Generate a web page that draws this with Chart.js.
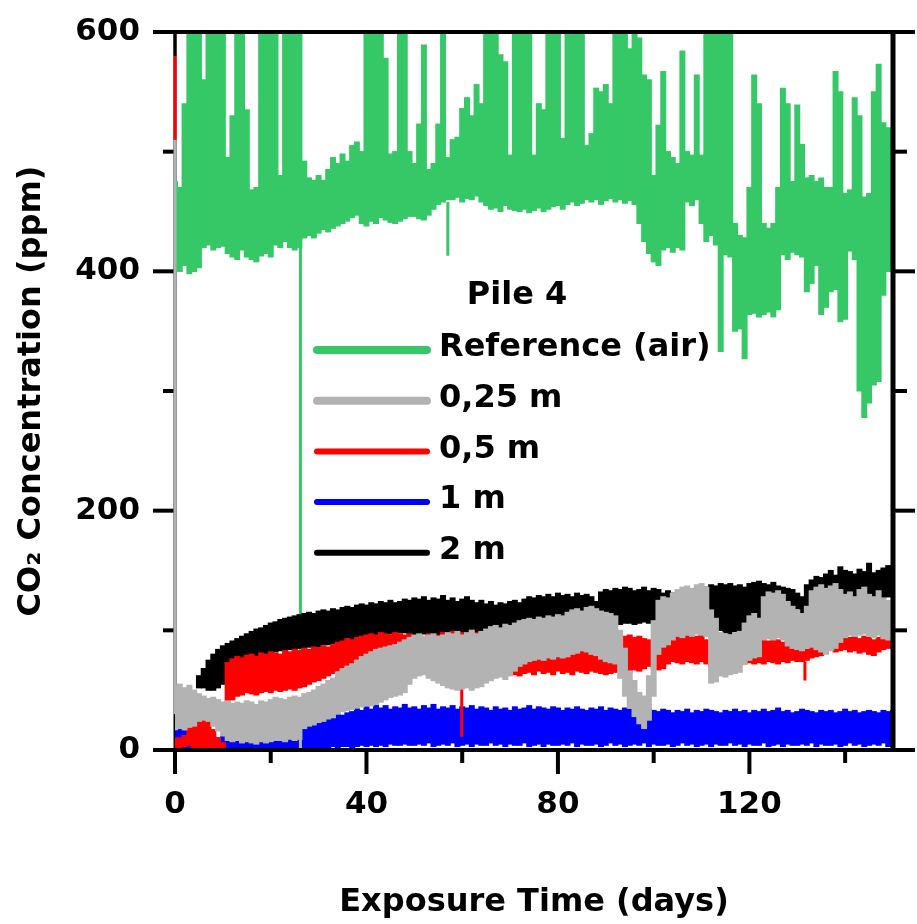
<!DOCTYPE html>
<html>
<head>
<meta charset="utf-8">
<title>Pile 4 CO2</title>
<script src="https://cdn.jsdelivr.net/npm/chart.js@4.4.1/dist/chart.umd.min.js"></script>
<style>
  body { margin: 0; background: #fff; }
  #wrap { width: 917px; height: 924px; }
</style>
</head>
<body>
<div id="wrap"><canvas id="myChart" width="917" height="924"></canvas></div>
<script>
// one value per day (day 0 .. 150), upper / lower edge of each noisy trace
const seriesNames = ["Reference (air)", "0,25 m", "0,5 m", "1 m", "2 m"];
const seriesColors = ["#36c866", "#b3b3b3", "#ff0000", "#0000ff", "#000000"];
const legendTitle = "Pile 4";

const xMajor = [0, 40, 80, 120];
const xMinor = [20, 60, 100, 140];
const yMajor = [0, 200, 400, 600];
const yMinor = [100, 300, 500];

const refHi = [
  475, 470, 540, 620, 620, 610, 560, 620, 600, 620,
  620, 495, 530, 620, 620, 535, 468, 470, 620, 620,
  620, 600, 480, 620, 620, 620, 620, 492, 478, 476,
  480, 476, 485, 495, 490, 498, 492, 505, 508, 500,
  620, 620, 620, 600, 578, 498, 500, 620, 610, 500,
  490, 523, 589, 485, 490, 523, 610, 495, 510, 512,
  536, 545, 530, 556, 540, 620, 620, 620, 581, 575,
  497, 620, 620, 610, 620, 497, 540, 535, 620, 620,
  620, 511, 600, 620, 620, 620, 505, 515, 553, 550,
  556, 540, 620, 620, 610, 586, 598, 595, 564, 560,
  480, 522, 567, 500, 495, 490, 584, 500, 497, 564,
  497, 620, 620, 620, 620, 620, 620, 440, 430, 428,
  470, 564, 540, 440, 436, 440, 470, 553, 540, 475,
  539, 506, 478, 480, 475, 478, 470, 470, 567, 550,
  465, 468, 545, 530, 462, 465, 550, 573, 524, 520,
  520
];
const refLo = [
  402, 400, 405, 398, 400, 403, 420, 422, 418, 420,
  421, 415, 412, 410, 418, 412, 410, 408, 413, 415,
  412, 422, 420, 425, 420, 418, 420, 428, 430, 428,
  432, 435, 433, 436, 438, 440, 442, 445, 447, 440,
  438, 442, 440, 445, 443, 441, 440, 442, 444, 446,
  446, 444, 443, 447, 452, 456, 458, 460, 460, 462,
  458, 461, 460, 463, 458, 455, 452, 453, 450, 455,
  452, 451, 450, 452, 449, 451, 453, 450, 452, 454,
  455, 452, 456, 458, 455, 457, 460, 458, 460, 456,
  459, 461, 458, 460, 457, 459, 456, 440, 425, 415,
  408, 405, 418, 420, 416, 420, 418, 458, 455, 460,
  440, 425, 430, 422, 333, 414, 412, 350, 352, 327,
  364, 365, 362, 364, 366, 362, 368, 414, 410, 416,
  414, 412, 383, 390, 405, 364, 370, 383, 385, 358,
  360, 417, 410, 300, 278, 290, 305, 308, 380, 400,
  400
];

const m025Hi = [
  53, 55, 52, 54, 50, 47, 45, 43, 44, 42,
  40, 41, 39, 40, 39, 41, 40, 38, 41, 40,
  42, 44, 43, 42, 44, 45, 44, 47, 48, 50,
  53, 55, 58, 60, 65, 68, 70, 72, 75, 78,
  80, 82, 84, 85, 86, 87, 88, 90, 92, 94,
  96, 97, 95, 96, 97, 95, 96, 98, 97, 99,
  96, 98, 100, 97, 99, 101, 103, 104, 102, 105,
  104, 106, 108, 109, 110, 109, 111, 110, 112, 111,
  113, 112, 115, 117, 118, 116, 119, 120, 118, 116,
  115, 114, 112, 100, 85, 66, 58, 48, 45, 62,
  108, 125, 128, 127, 131, 134, 136, 137, 135, 138,
  139, 136, 117, 110, 98, 97, 96, 98, 99, 106,
  112, 114, 110, 128, 132, 131, 133, 130, 124, 120,
  117, 114, 120, 133, 136, 138, 135, 137, 139, 134,
  130, 132, 128, 134, 136, 130, 128, 133, 127, 125,
  125
];
const m025Lo = [
  17, 18, 17, 19, 20, 24, 25, 24, 20, 16,
  12, 8, 7, 8, 6, 7, 6, 5, 7, 6,
  7, 8, 8, 7, 9, 8, 9, 18, 20, 21,
  23, 24, 26, 27, 30, 32, 33, 34, 35, 36,
  37, 37, 38, 40, 42, 44, 45, 46, 48, 55,
  60, 62, 63, 60, 58, 56, 54, 52, 51, 50,
  51, 52, 50, 52, 53, 56, 58, 60, 61, 59,
  62, 66, 70, 72, 74, 75, 76, 75, 77, 76,
  78, 77, 78, 80, 81, 83, 82, 80, 79, 76,
  74, 73, 72, 60, 45, 35, 28, 22, 18, 25,
  45, 80, 86, 88, 92, 95, 94, 96, 95, 97,
  96, 95, 56, 57, 62, 61, 63, 64, 65, 72,
  75, 77, 78, 92, 93, 92, 94, 92, 87, 85,
  84, 83, 85, 86, 84, 82, 80, 83, 85, 90,
  94, 96, 95, 96, 97, 95, 94, 96, 93, 92,
  92
];

const m05Hi = [
  10, 10, 12, 20, 25, 27, 26, 24, 17, 10,
  6, 73, 76, 78, 77, 79, 80, 78, 81, 80,
  82, 81, 80, 83, 82, 84, 83, 85, 84, 86,
  85, 87, 86, 88, 90, 91, 93, 92, 94, 95,
  96, 97, 96, 98, 97, 96, 98, 97, 96, 97,
  95, 96, 94, 97, 95, 96, 98, 97, 99, 96,
  98, 97, 100, 98, 95, 93, 90, 88, 85, 82,
  83, 84, 85, 86, 84, 86, 87, 86, 88, 87,
  89, 88, 90, 87, 89, 88, 90, 91, 89, 88,
  86, 85, 84, 94, 95, 96, 94, 95, 93, 92,
  88, 86, 88, 96, 97, 95, 98, 96, 97, 95,
  97, 92, 88, 87, 86, 88, 87, 86, 88, 90,
  92, 91, 93, 92, 91, 93, 92, 90, 91, 89,
  88, 86, 84, 86, 88, 92, 96, 97, 95, 97,
  96, 94, 95, 93, 95, 94, 92, 94, 97, 98,
  98
];
const m05Lo = [
  2, 2, 3, 4, 2, 0, 0, 0, 0, 0,
  0, 40, 42, 45, 46, 48, 47, 46, 48, 49,
  48, 50, 49, 50, 51, 50, 52, 53, 55, 57,
  58, 60, 62, 64, 66, 68, 70, 71, 72, 74,
  75, 76, 76, 75, 77, 76, 75, 74, 72, 70,
  68, 66, 64, 63, 61, 60, 58, 58, 57, 56,
  57, 58, 59, 58, 60, 61, 62, 63, 64, 62,
  64, 63, 62, 64, 65, 63, 66, 64, 65, 63,
  66, 64, 65, 63, 66, 65, 64, 66, 65, 64,
  63, 64, 65, 67, 66, 65, 67, 66, 68, 70,
  68, 67, 68, 72, 74, 73, 72, 74, 73, 72,
  74, 72, 70, 69, 70, 71, 70, 70, 71, 72,
  73, 72, 73, 72, 74, 73, 72, 74, 73, 75,
  74, 74, 75, 77, 78, 79, 82, 84, 82, 83,
  84, 82, 83, 81, 82, 80, 79, 82, 84, 85,
  85
];

const m1Hi = [
  17, 18, 16, 17, 15, 12, 11, 10, 11, 10,
  11, 9, 10, 11, 9, 10, 11, 9, 10, 11,
  9, 10, 11, 9, 10, 11, 10, 18, 20, 22,
  24, 25, 27, 28, 30, 29, 31, 32, 35, 33,
  36, 34, 38, 35, 37, 34, 36, 35, 38, 35,
  36, 34, 37, 35, 38, 34, 36, 35, 37, 34,
  36, 35, 37, 34, 36, 35, 33, 36, 34, 35,
  33, 36, 34, 35, 37, 34, 36, 35, 34, 36,
  35, 33, 35, 34, 36, 34, 33, 35, 34, 36,
  33, 35, 34, 33, 35, 34, 32, 33, 32, 34,
  33, 32, 34, 33, 31, 33, 32, 34, 31, 33,
  32, 34, 33, 32, 31, 33, 32, 34, 32, 33,
  31, 33, 32, 34, 32, 33, 35, 32, 33, 31,
  32, 34, 33, 32, 31, 33, 32, 33, 31, 32,
  34, 32, 33, 31, 32, 33, 32, 31, 33, 32,
  33
];
const m1Lo = [
  0, 1, 0, 1, 0, 0, 0, 0, 0, 0,
  0, 0, 0, 1, 0, 1, 0, 0, 1, 0,
  0, 1, 0, 0, 1, 0, 0, 1, 1, 2,
  1, 2, 2, 3, 2, 3, 3, 2, 3, 4,
  3, 4, 3, 4, 3, 5, 4, 4, 5, 4,
  4, 5, 4, 6, 3, 4, 5, 4, 6, 3,
  4, 5, 3, 5, 4, 4, 6, 4, 5, 3,
  5, 4, 4, 6, 3, 4, 5, 3, 5, 4,
  4, 5, 4, 6, 3, 5, 4, 4, 5, 3,
  4, 6, 4, 5, 3, 4, 5, 4, 6, 3,
  5, 4, 4, 5, 3, 4, 6, 4, 5, 3,
  4, 5, 3, 5, 4, 4, 6, 4, 5, 3,
  5, 4, 4, 6, 3, 4, 5, 3, 5, 4,
  4, 5, 4, 6, 3, 5, 4, 4, 5, 3,
  4, 6, 4, 5, 3, 4, 5, 4, 6, 3,
  4
];

const m2Hi = [
  null, null, null, null, null, 62, 68, 75, 80, 84,
  87, 89, 91, 93, 95, 97, 99, 101, 102, 104,
  106, 107, 109, 110, 111, 112, 113, 114, 115, 114,
  116, 117, 116, 118, 117, 119, 120, 119, 121, 122,
  121, 123, 122, 124, 123, 125, 123, 124, 126, 125,
  127, 126, 128, 125, 127, 126, 129, 125, 127, 124,
  126, 128, 125, 123, 125, 122, 124, 121, 123, 122,
  124, 125, 123, 126, 128, 127, 129, 128, 130, 128,
  131, 129, 130, 128, 131, 129, 130, 128, 124, 132,
  134, 133, 135, 134, 136, 135, 133, 134, 136, 133,
  135, 134, 131, 133, 131, 130, 132, 131, 133, 134,
  135, 136, 138, 137, 139, 138, 139, 137, 138, 136,
  139, 140, 141, 139, 138, 140, 137, 136, 135, 134,
  131, 128, 138, 142, 145, 144, 147, 150, 146, 153,
  150, 149, 147, 151, 149, 156, 148, 150, 152, 154,
  154
];
const m2Lo = [
  null, null, null, null, null, 52, 52, 50, 50, 52,
  55, 60, 68, 72, 74, 75, 77, 78, 79, 80,
  81, 82, 83, 83, 84, 84, 85, 85, 86, 86,
  86, 88, 88, 89, 90, 91, 91, 92, 92, 93,
  94, 95, 95, 96, 96, 97, 97, 98, 98, 97,
  96, 96, 97, 95, 96, 95, 97, 96, 95, 96,
  95, 97, 96, 95, 97, 98, 99, 100, 100, 101,
  101, 102, 103, 104, 105, 105, 106, 106, 107, 107,
  108, 108, 109, 108, 109, 110, 110, 110, 106, 107,
  106, 105, 105, 105, 106, 106, 105, 106, 107, 106,
  108, 109, 108, 109, 108, 108, 107, 106, 107, 108,
  107, 108, 106, 102, 100, 98, 97, 99, 100, 103,
  106, 108, 110, 112, 114, 114, 113, 114, 116, 118,
  118, 114, 116, 120, 122, 123, 124, 125, 124, 126,
  127, 126, 125, 126, 128, 127, 126, 125, 127, 128,
  128
];

// single narrow excursions: [series, day, from, to]
const spikes = [
  [0, 26.2, 420, 78],
  [0, 57.0, 458, 413],
  [1, 0, 30, 510],
  [1, 26.2, 10, 0],
  [2, 0, 510, 580],
  [2, 59.9, 55, 11],
  [2, 131.6, 74, 58],
  [4, 0, 580, 600]
];

const bands = [
  [refHi, refLo],
  [m025Hi, m025Lo],
  [m05Hi, m05Lo],
  [m1Hi, m1Lo],
  [m2Hi, m2Lo]
];
// drawing order: gray on top, then red, blue, black, green at the back
const drawOrder = [5, 1, 2, 3, 4];

const FONT = '"DejaVu Sans", "Liberation Sans", sans-serif';

const datasets = [];
bands.forEach(([hi, lo], s) => {
  const pts = [];
  hi.forEach((v, i) => {
    if (v !== null && lo[i] !== null) pts.push({ x: i, y: [lo[i], v] });
  });
  datasets.push({
    type: 'bar',
    label: seriesNames[s],
    data: pts,
    backgroundColor: seriesColors[s],
    borderWidth: 0,
    barPercentage: 1,
    categoryPercentage: 1,
    grouped: false,
    inflateAmount: 0.6,
    order: drawOrder[s]
  });
});
spikes.forEach(([s, d, a, b]) => {
  datasets.push({
    type: 'line',
    label: seriesNames[s] + " spike",
    data: [{ x: d, y: a }, { x: d, y: b }],
    borderColor: seriesColors[s],
    borderWidth: 3,
    pointRadius: 0,
    fill: false,
    clip: d === 0 ? false : undefined,
    order: drawOrder[s]
  });
});

const framePlugin = {
  id: 'frame',
  beforeDatasetsDraw(chart) {
    const { ctx, chartArea: a, scales: { x, y } } = chart;
    ctx.save();
    ctx.strokeStyle = '#000';
    ctx.lineWidth = 3;
    ctx.beginPath();
    ctx.moveTo(a.left, a.top);
    ctx.lineTo(a.left, a.bottom);
    ctx.stroke();
    ctx.lineWidth = 4;
    const tick = (x1, y1, x2, y2) => { ctx.beginPath(); ctx.moveTo(x1, y1); ctx.lineTo(x2, y2); ctx.stroke(); };
    yMajor.forEach(v => { const p = y.getPixelForValue(v); tick(a.left, p, a.left - 22, p); tick(a.right, p, a.right + 22, p); });
    yMinor.forEach(v => { const p = y.getPixelForValue(v); tick(a.left, p, a.left - 12, p); tick(a.right, p, a.right + 14, p); });
    xMajor.forEach(v => { const p = x.getPixelForValue(v); tick(p, a.bottom, p, a.bottom + 24); });
    xMinor.forEach(v => { const p = x.getPixelForValue(v); tick(p, a.bottom, p, a.bottom + 13); });
    ctx.restore();
  },
  afterDatasetsDraw(chart) {
    const { ctx, chartArea: a } = chart;
    ctx.save();
    ctx.strokeStyle = '#000';
    ctx.lineWidth = 4;
    ctx.beginPath();
    ctx.moveTo(a.left - 1.5, a.top);
    ctx.lineTo(a.right + 2.5, a.top);
    ctx.stroke();
    ctx.beginPath();
    ctx.moveTo(a.left - 1.5, a.bottom);
    ctx.lineTo(a.right + 2.5, a.bottom);
    ctx.stroke();
    ctx.lineWidth = 5;
    ctx.beginPath();
    ctx.moveTo(a.right, a.top - 2);
    ctx.lineTo(a.right, a.bottom + 2);
    ctx.stroke();
    ctx.restore();
  }
};

const legendPlugin = {
  id: 'pileLegend',
  afterDatasetsDraw(chart) {
    const { ctx, chartArea: a } = chart;
    const widths = [8, 8, 6, 6, 6];
    ctx.save();
    ctx.fillStyle = '#000';
    ctx.font = 'bold 32px ' + FONT;
    ctx.textBaseline = 'middle';
    ctx.textAlign = 'center';
    ctx.fillText(legendTitle, a.left + 342, 296);
    ctx.textAlign = 'left';
    seriesNames.forEach((name, i) => {
      const yy = 350 + i * 50.7;
      ctx.strokeStyle = seriesColors[i];
      ctx.lineWidth = widths[i];
      ctx.lineCap = 'round';
      ctx.beginPath();
      ctx.moveTo(a.left + 142, yy);
      ctx.lineTo(a.left + 252, yy);
      ctx.stroke();
      ctx.fillText(name, a.left + 264, yy - 2);
    });
    ctx.restore();
  }
};

// keep the plot box where the figure has it: no extra room for label overhang
const noOverhang = s => {
  s.paddingTop = 0;
  s.paddingBottom = 0;
  s.paddingLeft = 0;
  s.paddingRight = 0;
};

new Chart(document.getElementById('myChart').getContext('2d'), {
  type: 'bar',
  data: { datasets },
  options: {
    responsive: false,
    animation: false,
    layout: { padding: { left: 0, right: 24, top: 32, bottom: 0 } },
    plugins: { legend: { display: false }, tooltip: { enabled: false } },
    scales: {
      x: {
        type: 'linear',
        min: 0,
        max: 150,
        offset: false,
        grid: { display: false, drawTicks: false, offset: false },
        border: { display: false },
        ticks: {
          stepSize: 20,
          autoSkip: false,
          maxRotation: 0,
          padding: 36,
          color: '#000',
          font: { family: FONT, size: 31, weight: 'bold' },
          callback: v => xMajor.includes(v) ? String(v) : ''
        },
        title: {
          display: true,
          text: 'Exposure Time (days)',
          color: '#000',
          font: { family: FONT, size: 32, weight: 'bold' },
          padding: { top: 0, bottom: 2 }
        },
        afterFit: s => { s.height = 174; noOverhang(s); }
      },
      y: {
        min: 0,
        max: 600,
        grid: { display: false, drawTicks: false },
        border: { display: false },
        ticks: {
          stepSize: 100,
          autoSkip: false,
          padding: 35,
          color: '#000',
          font: { family: FONT, size: 31, weight: 'bold' },
          callback: v => yMajor.includes(v) ? String(v) : ''
        },
        title: {
          display: true,
          text: 'CO\u2082 Concentration (ppm)',
          color: '#000',
          font: { family: FONT, size: 32, weight: 'bold' },
          padding: { top: 12, bottom: 0 }
        },
        afterFit: s => { s.width = 175; noOverhang(s); }
      }
    }
  },
  plugins: [framePlugin, legendPlugin]
});
</script>
</body>
</html>
